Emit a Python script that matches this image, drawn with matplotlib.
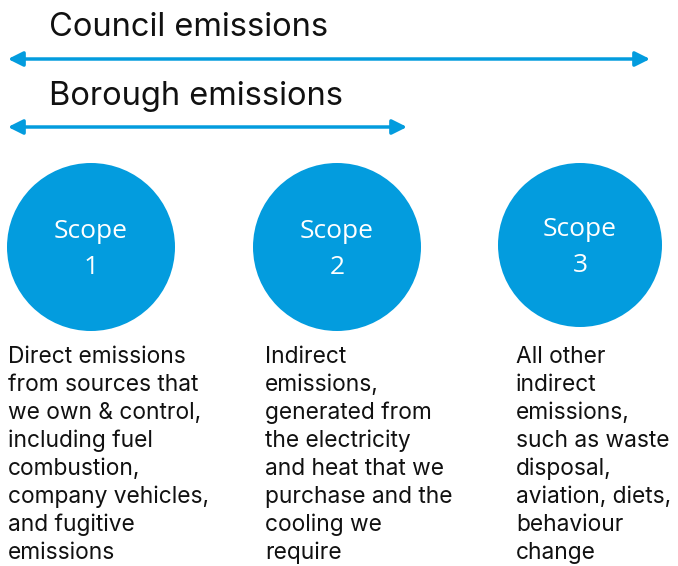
import matplotlib.pyplot as plt
from matplotlib.patches import Circle

# diagram content
ranges = ["Council emissions", "Borough emissions"]
range_ends = [650, 407]          # right end of each arrow (px)
scopes = ["1", "2", "3"]
descriptions = [
    ["Direct emissions", "from sources that", "we own & control,", "including fuel",
     "combustion,", "company vehicles,", "and fugitive", "emissions"],
    ["Indirect", "emissions,", "generated from", "the electricity",
     "and heat that we", "purchase and the", "cooling we", "require"],
    ["All other", "indirect", "emissions,", "such as waste",
     "disposal,", "aviation, diets,", "behaviour", "change"],
]

blue = "#039CDE"
W, H = 678, 566

fig = plt.figure(figsize=(W / 100, H / 100), dpi=100)
ax = fig.add_axes([0, 0, 1, 1])
ax.set_xlim(0, W)
ax.set_ylim(H, 0)
ax.axis("off")

# range arrows with titles
title_y = [28, 96]
arrow_y = [59, 127]
for label, ty, ay, x1 in zip(ranges, title_y, arrow_y, range_ends):
    ax.text(49, ty, label, fontsize=23.5, family="Inter", va="center", ha="left", color="#111111")
    ax.annotate("", xy=(8, ay), xytext=(x1, ay),
                arrowprops=dict(arrowstyle="<|-|>", color=blue, lw=2.5,
                                mutation_scale=22, shrinkA=0, shrinkB=0))

# scope circles
cx = [91, 337, 580]
cy = [247, 247, 245]
radii = [84, 84, 82]
for s, x, y, r in zip(scopes, cx, cy, radii):
    ax.add_patch(Circle((x, y), r, color=blue, lw=0))
    ax.text(x, y - 16, "Scope", fontsize=19, family="Open Sans", color="white",
            ha="center", va="center")
    ax.text(x, y + 21, s, fontsize=19, family="Open Sans", color="white",
            ha="center", va="center")

# descriptions
col_x = [8, 265, 516]
for x, lines in zip(col_x, descriptions):
    for i, line in enumerate(lines):
        ax.text(x, 357 + 28 * i, line, fontsize=16.4, family="Inter",
                color="#111111", ha="left", va="center")

fig.savefig("out.png", dpi=100)
